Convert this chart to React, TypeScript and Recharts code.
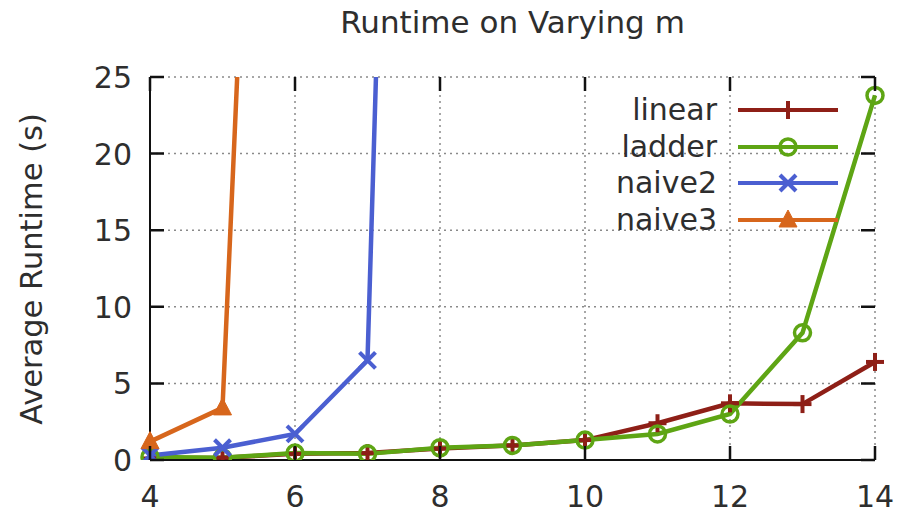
import { LineChart, Line, XAxis, YAxis, CartesianGrid, Legend } from 'recharts';

const m = [4, 5, 6, 7, 8, 9, 10, 11, 12, 13, 14];
const linear = [0.1, 0.15, 0.4, 0.45, 0.75, 0.95, 1.3, 2.4, 3.7, 3.65, 6.4];
const ladder = [0.2, 0.15, 0.45, 0.4, 0.8, 0.95, 1.3, 1.7, 3.0, 8.3, 23.8];
const naive2 = [0.3, 0.8, 1.7, 6.5, 165, null, null, null, null, null, null];
const naive3 = [1.2, 3.4, 110, null, null, null, null, null, null, null, null];
const xTicks = [4, 6, 8, 10, 12, 14];
const yTicks = [0, 5, 10, 15, 20, 25];

const data = m.map((v, i) => ({ m: v, linear: linear[i], ladder: ladder[i], naive2: naive2[i], naive3: naive3[i] }));

const series = [
  { key: 'linear', color: '#8e1f17', shape: 'plus' },
  { key: 'ladder', color: '#5ea514', shape: 'circle' },
  { key: 'naive2', color: '#4b5fd1', shape: 'cross' },
  { key: 'naive3', color: '#d7661c', shape: 'triangle' },
];

const W = 912;
const H = 515;
const MARGIN = { top: 77, right: 37, bottom: 0, left: 90 };
const Y_AXIS_W = 60;
const X_AXIS_H = 55;
const PLOT_W = W - MARGIN.left - Y_AXIS_W - MARGIN.right;
const PLOT_H = H - MARGIN.top - X_AXIS_H - MARGIN.bottom;
const TICK = 14;
const FONT = '"DejaVu Sans", sans-serif';
const TEXT = '#2e2e2e';
const AXIS = '#111';

function Marker({ shape, cx, cy, color }: any) {
  if (cx == null || cy == null) return <g />;
  if (shape === 'plus') {
    return (
      <g stroke={color} strokeWidth={4}>
        <line x1={cx - 9} x2={cx + 9} y1={cy} y2={cy} />
        <line x1={cx} x2={cx} y1={cy - 9} y2={cy + 9} />
      </g>
    );
  }
  if (shape === 'cross') {
    return (
      <g stroke={color} strokeWidth={4}>
        <line x1={cx - 8} x2={cx + 8} y1={cy - 8} y2={cy + 8} />
        <line x1={cx - 8} x2={cx + 8} y1={cy + 8} y2={cy - 8} />
      </g>
    );
  }
  if (shape === 'triangle') {
    return <polygon points={`${cx},${cy - 10} ${cx - 9},${cy + 7} ${cx + 9},${cy + 7}`} fill={color} stroke={color} strokeWidth={1} />;
  }
  return <circle cx={cx} cy={cy} r={8} fill="none" stroke={color} strokeWidth={3.5} />;
}

// gnuplot style: inward ticks, mirrored on the opposite side
function XTick(props: any) {
  const { x, y, payload } = props;
  return (
    <g>
      <path d={`M${x},${y}V${y - TICK}M${x},${y - PLOT_H}V${y - PLOT_H + TICK}`} stroke={AXIS} strokeWidth={2.5} fill="none" />
      <text x={x} y={y + 47} textAnchor="middle" fontSize={30} fontFamily={FONT} fill={TEXT}>
        {payload.value}
      </text>
    </g>
  );
}

function YTick(props: any) {
  const { x, y, payload } = props;
  return (
    <g>
      <path d={`M${x},${y}H${x + TICK}M${x + PLOT_W - TICK},${y}H${x + PLOT_W}`} stroke={AXIS} strokeWidth={2.5} fill="none" />
      <text x={x - 18} y={y + 11} textAnchor="end" fontSize={30} fontFamily={FONT} fill={TEXT}>
        {payload.value}
      </text>
    </g>
  );
}

function LegendBox() {
  return (
    <div style={{ fontFamily: FONT, fontSize: 30, color: TEXT }}>
      {series.map((s) => (
        <div key={s.key} style={{ display: 'flex', alignItems: 'center', height: 36.5 }}>
          <span style={{ width: 117, textAlign: 'right', lineHeight: '36.5px' }}>{s.key}</span>
          <svg width={125} height={36} style={{ display: 'block' }}>
            <line x1={21} x2={121} y1={18} y2={18} stroke={s.color} strokeWidth={4} />
            <Marker shape={s.shape} cx={71} cy={18} color={s.color} />
          </svg>
        </div>
      ))}
    </div>
  );
}

export default function App() {
  return (
    <div style={{ position: 'relative', width: W, height: H, background: '#fff', fontFamily: FONT }}>
      <style>{'body{margin:0}'}</style>
      <div
        style={{
          position: 'absolute', left: MARGIN.left + Y_AXIS_W + PLOT_W / 2, top: 22,
          transform: 'translate(-50%,-50%)', fontSize: 31, lineHeight: 1, whiteSpace: 'nowrap', color: TEXT,
        }}
      >
        Runtime on Varying m
      </div>
      <div
        style={{
          position: 'absolute', left: 32, top: 269, transform: 'translate(-50%,-50%) rotate(-90deg)',
          fontSize: 30.5, lineHeight: 1, whiteSpace: 'nowrap', color: TEXT,
        }}
      >
        Average Runtime (s)
      </div>
      <LineChart width={W} height={H} data={data} margin={MARGIN}>
        <CartesianGrid stroke="#8a8a8a" strokeDasharray="2 4" strokeWidth={1.5} />
        <XAxis
          dataKey="m" type="number" domain={[4, 14]} ticks={xTicks} height={X_AXIS_H}
          axisLine={{ stroke: AXIS, strokeWidth: 2 }} tickLine={false} tickSize={0} tickMargin={0}
          tick={XTick} interval={0}
        />
        <YAxis
          type="number" domain={[0, 25]} ticks={yTicks} width={Y_AXIS_W} allowDataOverflow
          axisLine={{ stroke: AXIS, strokeWidth: 2 }} tickLine={false} tickSize={0} tickMargin={0}
          tick={YTick} interval={0}
        />
        <Legend
          layout="vertical" align="center" verticalAlign="middle"
          wrapperStyle={{ top: 92, left: 600, width: 250 }}
          content={() => <LegendBox />}
        />
        {series.map((s) => (
          <Line
            key={s.key} dataKey={s.key} stroke={s.color} strokeWidth={4.5} isAnimationActive={false}
            dot={(p: any) => <Marker key={`${s.key}-${p.index}`} shape={s.shape} cx={p.cx} cy={p.cy} color={s.color} />}
            activeDot={false}
          />
        ))}
      </LineChart>
    </div>
  );
}
